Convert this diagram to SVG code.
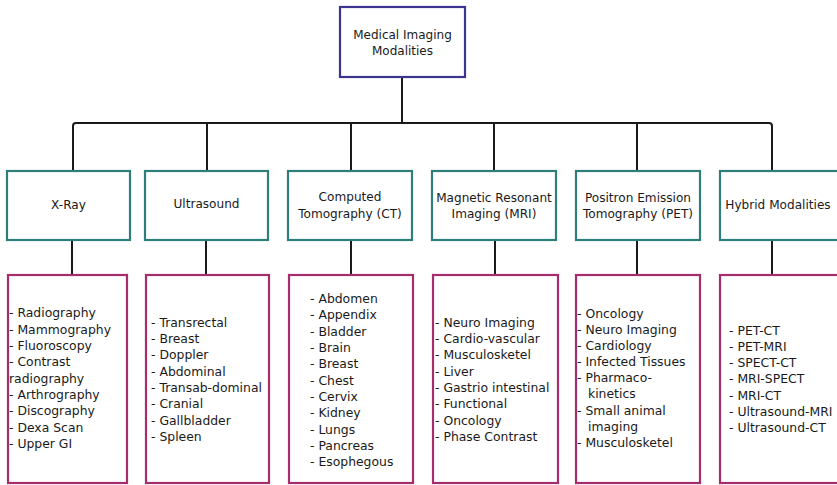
<svg xmlns="http://www.w3.org/2000/svg" width="837" height="485" viewBox="0 0 837 485">
<style>
text{font-family:"DejaVu Sans","Liberation Sans",sans-serif;fill:#1a1a1a;}
.top{fill:#fff;stroke:#3b358f;stroke-width:2.2;}
.cat{fill:#fff;stroke:#2e7f7a;stroke-width:2.2;}
.lst{fill:#fff;stroke:#a52d6c;stroke-width:2.2;}
.t1{font-size:12px;text-anchor:middle;}
.t2{font-size:12.1px;text-anchor:middle;}
.t3{font-size:12.4px;}
.con{fill:none;stroke:#1a1a1a;stroke-width:2;}
</style>
<rect width="837" height="485" fill="#fff"/>
<g id="connectors">
<path class="con" d="M402,77V123M73,170V126Q73,123 76,123H769Q772,123 772,126V170M207,123V170M351,123V170M494,123V170M637,123V170"/>
<path class="con" d="M72,240V275M206,240V275M351,240V275M495,240V275M637,240V275M772,240V275"/>
</g>
<g id="root">
<rect class="top" x="340" y="7" width="125" height="70"/>
<text class="t1" x="402.5" y="39">Medical Imaging</text>
<text class="t1" x="402.5" y="55">Modalities</text>
</g>
<g id="xray">
<rect class="cat" x="7" y="171" width="123" height="69"/>
<text class="t2" x="68.5" y="209">X-Ray</text>
</g>
<g id="ultrasound">
<rect class="cat" x="145" y="171" width="123" height="69"/>
<text class="t2" x="206.5" y="208">Ultrasound</text>
</g>
<g id="ct">
<rect class="cat" x="288" y="171" width="124" height="69"/>
<text class="t2" x="350" y="201">Computed</text>
<text class="t2" x="350" y="218">Tomography (CT)</text>
</g>
<g id="mri">
<rect class="cat" x="432" y="171" width="124" height="69"/>
<text class="t2" x="494" y="202">Magnetic Resonant</text>
<text class="t2" x="494" y="218">Imaging (MRI)</text>
</g>
<g id="pet">
<rect class="cat" x="576" y="171" width="124" height="69"/>
<text class="t2" x="638" y="202">Positron Emission</text>
<text class="t2" x="638" y="218">Tomography (PET)</text>
</g>
<g id="hybrid">
<rect class="cat" x="720" y="171" width="123" height="69"/>
<text class="t2" x="778" y="209">Hybrid Modalities</text>
</g>
<g id="xray-list">
<rect class="lst" x="8" y="275" width="119" height="208"/>
<text class="t3" x="9" y="317">- Radiography</text>
<text class="t3" x="9" y="334">- Mammography</text>
<text class="t3" x="9" y="350">- Fluoroscopy</text>
<text class="t3" x="9" y="366">- Contrast</text>
<text class="t3" x="9" y="383">radiography</text>
<text class="t3" x="9" y="399">- Arthrography</text>
<text class="t3" x="9" y="415">- Discography</text>
<text class="t3" x="9" y="432">- Dexa Scan</text>
<text class="t3" x="9" y="448">- Upper GI</text>
</g>
<g id="ultrasound-list">
<rect class="lst" x="146" y="275" width="123" height="208"/>
<text class="t3" x="151" y="327">- Transrectal</text>
<text class="t3" x="151" y="343">- Breast</text>
<text class="t3" x="151" y="359">- Doppler</text>
<text class="t3" x="151" y="376">- Abdominal</text>
<text class="t3" x="151" y="392">- Transab-dominal</text>
<text class="t3" x="151" y="408">- Cranial</text>
<text class="t3" x="151" y="425">- Gallbladder</text>
<text class="t3" x="151" y="441">- Spleen</text>
</g>
<g id="ct-list">
<rect class="lst" x="289" y="275" width="124" height="208"/>
<text class="t3" x="310" y="303">- Abdomen</text>
<text class="t3" x="310" y="319">- Appendix</text>
<text class="t3" x="310" y="336">- Bladder</text>
<text class="t3" x="310" y="352">- Brain</text>
<text class="t3" x="310" y="368">- Breast</text>
<text class="t3" x="310" y="385">- Chest</text>
<text class="t3" x="310" y="401">- Cervix</text>
<text class="t3" x="310" y="417">- Kidney</text>
<text class="t3" x="310" y="434">- Lungs</text>
<text class="t3" x="310" y="450">- Pancreas</text>
<text class="t3" x="310" y="466">- Esophegous</text>
</g>
<g id="mri-list">
<rect class="lst" x="433" y="275" width="125" height="208"/>
<text class="t3" x="435" y="327">- Neuro Imaging</text>
<text class="t3" x="435" y="343">- Cardio-vascular</text>
<text class="t3" x="435" y="359">- Musculosketel</text>
<text class="t3" x="435" y="376">- Liver</text>
<text class="t3" x="435" y="392">- Gastrio intestinal</text>
<text class="t3" x="435" y="408">- Functional</text>
<text class="t3" x="435" y="425">- Oncology</text>
<text class="t3" x="435" y="441">- Phase Contrast</text>
</g>
<g id="pet-list">
<rect class="lst" x="576" y="275" width="124" height="208"/>
<text class="t3" x="577" y="318">- Oncology</text>
<text class="t3" x="577" y="334">- Neuro Imaging</text>
<text class="t3" x="577" y="350">- Cardiology</text>
<text class="t3" x="577" y="366">- Infected Tissues</text>
<text class="t3" x="577" y="382">- Pharmaco-</text>
<text class="t3" x="588" y="398">kinetics</text>
<text class="t3" x="577" y="415">- Small animal</text>
<text class="t3" x="588" y="431">imaging</text>
<text class="t3" x="577" y="447">- Musculosketel</text>
</g>
<g id="hybrid-list">
<rect class="lst" x="720" y="275" width="123" height="208"/>
<text class="t3" x="729" y="335">- PET-CT</text>
<text class="t3" x="729" y="351">- PET-MRI</text>
<text class="t3" x="729" y="367">- SPECT-CT</text>
<text class="t3" x="729" y="383">- MRI-SPECT</text>
<text class="t3" x="729" y="400">- MRI-CT</text>
<text class="t3" x="729" y="416">- Ultrasound-MRI</text>
<text class="t3" x="729" y="432">- Ultrasound-CT</text>
</g>
</svg>
